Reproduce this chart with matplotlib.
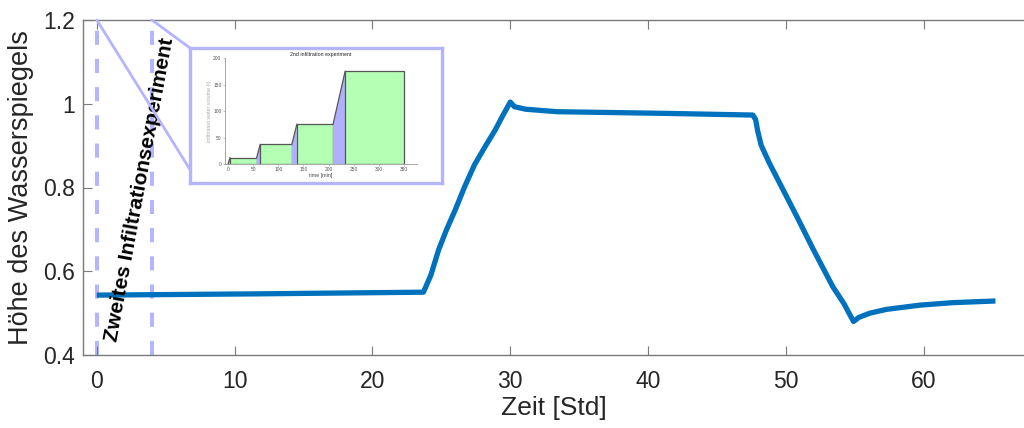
import numpy as np
import matplotlib
matplotlib.use("Agg")
import matplotlib.pyplot as plt
from matplotlib.patches import ConnectionPatch

plt.rcParams['font.family'] = ['Liberation Sans', 'DejaVu Sans']

# Wasserspiegel-Messung (Zeit in Stunden, Höhe)
zeit = [0.0, 11.6, 23.7, 24.24, 24.8, 25.37, 26.0, 26.69, 27.4, 28.16,
        28.9, 29.41, 30.0, 30.3, 31.1, 33.4, 41.3, 47.6, 47.8, 47.95,
        48.2, 48.8, 49.8, 50.8, 52.0, 53.4, 54.2, 54.9, 55.3, 56.1, 57.3,
        59.7, 62.1, 65.2]
hoehe = [0.543, 0.546, 0.550, 0.591, 0.651, 0.699, 0.746, 0.802, 0.854,
         0.897, 0.937, 0.969, 1.004, 0.993, 0.987, 0.981, 0.977, 0.973,
         0.962, 0.935, 0.901, 0.858, 0.794, 0.730, 0.651, 0.563, 0.523,
         0.480, 0.490, 0.500, 0.509, 0.519, 0.525, 0.529]

# Zeitfenster des zweiten Infiltrationsexperiments [Std]
experiment = [0, 4]

# Infiltrationsstufen (Zeit in min, Volumen in l)
stufe_start = [4, 64, 137, 233]
stufe_ende = [57, 127, 209, 350]
stufe_volumen = [12, 37, 75, 175]

x_ticks = [0, 10, 20, 30, 40, 50, 60]
y_ticks = [0.4, 0.6, 0.8, 1.0, 1.2]
y_ticklabels = ['0.4', '0.6', '0.8', '1', '1.2']

BLAU = '#0072BD'
LILA = '#b4b4ff'
GRUEN = '#b3ffb3'
ACHSE = '#7a7a7a'
TEXT = '#262626'

fig = plt.figure(figsize=(10.24, 4.28), dpi=100)
ax = fig.add_axes([83 / 1024, 73 / 428, 941 / 1024, 335 / 428])

for xv in experiment:
    ax.axvline(xv, color=LILA, linewidth=2.9, dashes=(3.5, 3.5), zorder=1)

ax.plot(zeit, hoehe, color=BLAU, linewidth=3.8, solid_joinstyle='round',
        solid_capstyle='butt', zorder=3)

ax.text(3.15, 0.795, 'Zweites Infiltrationsexperiment', rotation=79.5,
        ha='center', va='center', fontsize=15, fontweight='bold',
        color='black', zorder=4)

ax.set_xlim(-1, 67.27)
ax.set_ylim(0.4, 1.2)
ax.set_xticks(x_ticks)
ax.set_yticks(y_ticks)
ax.set_yticklabels(y_ticklabels)
ax.set_xlabel('Zeit [Std]', fontsize=19, color=TEXT, labelpad=2)
ax.set_ylabel('Höhe des Wasserspiegels', fontsize=19.5, color=TEXT, labelpad=6)

ax.spines['right'].set_visible(False)
for s in ['left', 'top', 'bottom']:
    ax.spines[s].set_color(ACHSE)
    ax.spines[s].set_linewidth(1.0)
ax.tick_params(axis='x', direction='in', top=True, length=6.5, width=0.8,
               color=ACHSE, labelsize=16.5, labelcolor=TEXT, pad=11)
ax.tick_params(axis='y', direction='in', right=False, length=6.5, width=0.8,
               color=ACHSE, labelsize=16.5, labelcolor=TEXT, pad=6)

# Rahmen des eingebetteten Diagramms
rahmen = fig.add_axes([190 / 1024, 245 / 428, 252 / 1024, 135 / 428])
rahmen.set_xticks([])
rahmen.set_yticks([])
for s in rahmen.spines.values():
    s.set_color(LILA)
    s.set_linewidth(2.4)

# Verbindungslinien zum Rahmen
for xv, ecke in zip(experiment, [(0, 0.1), (0, 1.0)]):
    con = ConnectionPatch(xyA=(xv, 1.2), coordsA=ax.transData,
                          xyB=ecke, coordsB=rahmen.transAxes,
                          color=LILA, linewidth=2.0, zorder=2)
    fig.add_artist(con)
rahmen.set_zorder(5)

# Infiltrationsdiagramm
ins = fig.add_axes([225 / 1024, 264 / 428, 192 / 1024, 106 / 428])
ins.set_zorder(6)
ins.patch.set_alpha(0)

# Übergänge zwischen den Stufen
prev_x, prev_v = 0, 0
for xs, xe, v in zip(stufe_start, stufe_ende, stufe_volumen):
    ins.fill([prev_x, xs, xs, prev_x], [0, 0, v, prev_v], color='#b0b0ff',
             linewidth=0)
    ins.plot([prev_x, xs], [prev_v, v], color='#555555', linewidth=0.9)
    ins.fill([xs, xe, xe, xs], [0, 0, v, v], facecolor=GRUEN,
             edgecolor='#555555', linewidth=0.9)
    prev_x, prev_v = xe, v

ins.set_xlim(-6, 376)
ins.set_ylim(0, 200)
ins.set_xticks([0, 50, 100, 150, 200, 250, 300, 350])
ins.set_yticks([0, 50, 100, 150, 200])
ins.spines['top'].set_visible(False)
ins.spines['right'].set_visible(False)
for s in ['left', 'bottom']:
    ins.spines[s].set_color('#999999')
    ins.spines[s].set_linewidth(0.6)
ins.tick_params(labelsize=3.5, length=1.5, width=0.4, pad=1,
                color='#999999', labelcolor='#555555')
ins.set_title('2nd infiltration experiment', fontsize=3.8, pad=1.5,
              color='#222222')
ins.set_xlabel('time [min]', fontsize=3.8, labelpad=0.5, color='#444444')
ins.set_ylabel('infiltrated water volume (l)', fontsize=3.8, labelpad=1,
               color='#aaaaaa')

fig.savefig('out.png', dpi=100)
